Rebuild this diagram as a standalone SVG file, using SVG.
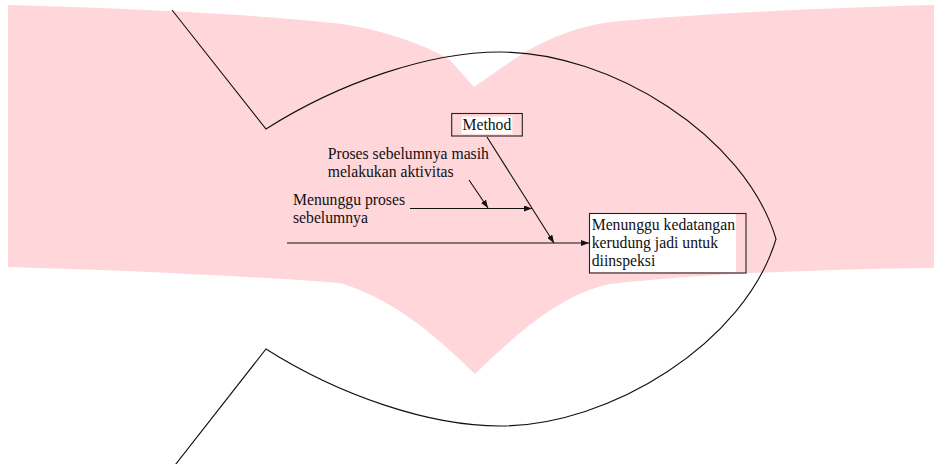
<svg xmlns="http://www.w3.org/2000/svg" width="934" height="464" viewBox="0 0 934 464">
  <style>
    .t { font-family: "Liberation Serif", "Times New Roman", serif; font-size: 15.7px; fill: #111; }
    .ln { stroke: #111; stroke-width: 1.1; fill: none; }
    .box { stroke: #222; stroke-width: 1.1; fill: none; }
  </style>
  <defs>
    <marker id="ah" viewBox="0 0 8 6" refX="8" refY="3" markerWidth="8" markerHeight="6" markerUnits="userSpaceOnUse" orient="auto">
      <path d="M0,0 L8,3 L0,6 Z" fill="#111"/>
    </marker>
  </defs>
  <rect width="934" height="464" fill="#fff"/>
  <g id="background">
    <path fill="#FFD6DA" d="M8,5 C120,8 250,14 333,23 C380,28 425,45 450,60 L474,87 L513,60 C540,42 570,28 610,22 C700,14 820,8 934,5 L934,268 C820,269 700,274 610,284 C570,292 530,320 475,374 C430,330 390,298 340,283 C250,276 120,270 8,267 Z"/>
  </g>
  <g id="fish">
    <path class="ln" d="M172,10 L266,129 C340,82 430,52 500,52 C610,52 745,135 776,239 C745,343 610,426 500,426 C430,426 340,396 266,349 L172,469"/>
  </g>
  <g id="connectors">
    <line class="ln" x1="287" y1="243" x2="589" y2="243" marker-end="url(#ah)"/>
    <line class="ln" x1="487" y1="137" x2="554" y2="243" marker-end="url(#ah)"/>
    <line class="ln" x1="410" y1="208.5" x2="532" y2="208.5" marker-end="url(#ah)"/>
    <line class="ln" x1="469" y1="180" x2="488" y2="208" marker-end="url(#ah)"/>
  </g>
  <g id="method">
    <rect x="461.7" y="116.7" width="50.6" height="17.3" fill="#fff"/>
    <rect class="box" x="451.7" y="113.5" width="70.6" height="22.5"/>
    <text class="t" x="462.5" y="130">Method</text>
  </g>
  <g id="cause-proses">
    <text class="t" x="327.7" y="158.5">Proses sebelumnya masih</text>
    <text class="t" x="327.7" y="176.7">melakukan aktivitas</text>
  </g>
  <g id="cause-menunggu">
    <text class="t" x="293" y="205">Menunggu proses</text>
    <text class="t" x="293" y="223">sebelumnya</text>
  </g>
  <g id="effect">
    <rect x="590" y="214" width="146" height="58" fill="#fff"/>
    <rect class="box" x="589.5" y="213.5" width="156.5" height="59.5"/>
    <text class="t" x="591.7" y="229.8">Menunggu kedatangan</text>
    <text class="t" x="591.7" y="247.8">kerudung jadi untuk</text>
    <text class="t" x="591.7" y="265.8">diinspeksi</text>
  </g>
</svg>
